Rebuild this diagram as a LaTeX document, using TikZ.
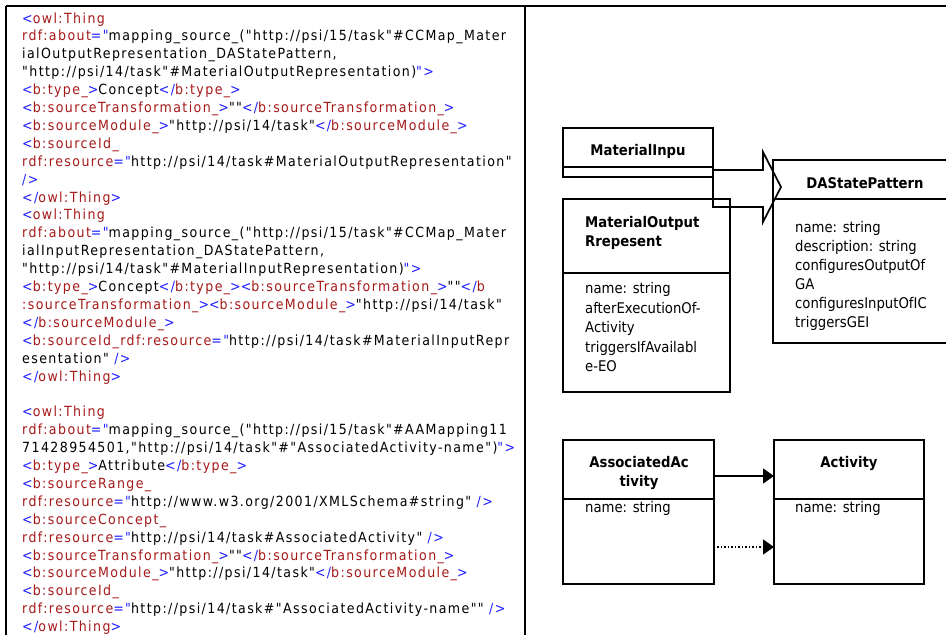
\documentclass[tikz,border=0pt]{standalone}
\usepackage{fontspec}
\setmainfont{DejaVu Sans}[FakeStretch=0.9]
\newfontfamily\codefont{DejaVu Sans}[FakeStretch=0.9,LetterSpace=10]
\usetikzlibrary{arrows.meta}
\definecolor{xblue}{RGB}{30,30,255}
\definecolor{xred}{RGB}{165,25,25}
\newcommand\bl[1]{\textcolor{xblue}{#1}}
\newcommand\rd[1]{\textcolor{xred}{#1}}
\newcommand\otag[1]{\bl{<}\rd{#1}\bl{>}}
\newcommand\ctag[1]{\bl{</}\rd{#1}\bl{>}}
\tikzset{
  codeline/.style={anchor=base west, inner sep=0pt, font=\codefont\fontsize{14}{16}\selectfont},
  frame/.style={line width=2pt},
  box/.style={draw, line width=1.7pt, inner sep=0pt, outer sep=0pt, anchor=north west},
  sepline/.style={line width=1.7pt},
  ttl/.style={anchor=base, inner sep=0pt, font=\bfseries\fontsize{14.7}{19}\selectfont},
  ttll/.style={anchor=base west, inner sep=0pt, font=\bfseries\fontsize{14.7}{19}\selectfont},
  attr/.style={anchor=base west, inner sep=0pt, font=\fontsize{14.7}{19.5}\selectfont},
  conn/.style={line width=1.5pt, -{Triangle[length=11pt,width=15pt]}},
  dconn/.style={line width=1.5pt, dotted, -{Triangle[length=11pt,width=15pt]}}
}
\begin{document}
\begin{tikzpicture}[x=1pt,y=-1pt]
\useasboundingbox (0,0) rectangle (946,635);
\clip (0,0) rectangle (946,635);
% table frame
\draw[frame] (6,6) -- (946,6);
\draw[frame] (6,6) -- (6,635);
\draw[frame] (525,6) -- (525,635);
% code text
\node[codeline] (l1) at (22,23) {\bl{<}\rd{owl:Thing}};
\node[codeline] (l2) at (22,40.9) {\rd{rdf:about}\bl{="}mapping\_source\_("http://psi/15/task"\#CCMap\_Mater};
\node[codeline] (l3) at (22,58.8) {ialOutputRepresentation\_DAStatePattern,};
\node[codeline] (l4) at (22,76.7) {"http://psi/14/task"\#MaterialOutputRepresentation)\bl{">}};
\node[codeline] (l5) at (22,94.6) {\otag{b:type\_}Concept\ctag{b:type\_}};
\node[codeline] (l6) at (22,112.5) {\otag{b:sourceTransformation\_}""\ctag{b:sourceTransformation\_}};
\node[codeline] (l7) at (22,130.4) {\otag{b:sourceModule\_}"http://psi/14/task"\ctag{b:sourceModule\_}};
\node[codeline] (l8) at (22,148.3) {\bl{<}\rd{b:sourceId\_}};
\node[codeline] (l9) at (22,166.2) {\rd{rdf:resource}\bl{="}http://psi/14/task\#MaterialOutputRepresentation"};
\node[codeline] (l10) at (22,184.1) {\bl{/>}};
\node[codeline] (l11) at (22,202) {\ctag{owl:Thing}};
\node[codeline] (l12) at (22,219.9) {\bl{<}\rd{owl:Thing}};
\node[codeline] (l13) at (22,237.8) {\rd{rdf:about}\bl{="}mapping\_source\_("http://psi/15/task"\#CCMap\_Mater};
\node[codeline] (l14) at (22,255.7) {ialInputRepresentation\_DAStatePattern,};
\node[codeline] (l15) at (22,273.6) {"http://psi/14/task"\#MaterialInputRepresentation)\bl{">}};
\node[codeline] (l16) at (22,291.5) {\otag{b:type\_}Concept\ctag{b:type\_}\otag{b:sourceTransformation\_}""\bl{</}\rd{b}};
\node[codeline] (l17) at (22,309.4) {\rd{:sourceTransformation\_}\bl{>}\otag{b:sourceModule\_}"http://psi/14/task"};
\node[codeline] (l18) at (22,327.3) {\ctag{b:sourceModule\_}};
\node[codeline] (l19) at (22,345.2) {\bl{<}\rd{b:sourceId\_rdf:resource}\bl{="}http://psi/14/task\#MaterialInputRepr};
\node[codeline] (l20) at (22,363.1) {esentation" \bl{/>}};
\node[codeline] (l21) at (22,381) {\ctag{owl:Thing}};
\node[codeline] (l23) at (22,416.8) {\bl{<}\rd{owl:Thing}};
\node[codeline] (l24) at (22,434.7) {\rd{rdf:about}\bl{="}mapping\_source\_("http://psi/15/task"\#AAMapping11};
\node[codeline] (l25) at (22,452.6) {71428954501,"http://psi/14/task"\#"AssociatedActivity-name")\bl{">}};
\node[codeline] (l26) at (22,470.5) {\otag{b:type\_}Attribute\ctag{b:type\_}};
\node[codeline] (l27) at (22,488.4) {\bl{<}\rd{b:sourceRange\_}};
\node[codeline] (l28) at (22,506.3) {\rd{rdf:resource}\bl{="}http://www.w3.org/2001/XMLSchema\#string" \bl{/>}};
\node[codeline] (l29) at (22,524.2) {\bl{<}\rd{b:sourceConcept\_}};
\node[codeline] (l30) at (22,542.1) {\rd{rdf:resource}\bl{="}http://psi/14/task\#AssociatedActivity" \bl{/>}};
\node[codeline] (l31) at (22,560) {\otag{b:sourceTransformation\_}""\ctag{b:sourceTransformation\_}};
\node[codeline] (l32) at (22,577.9) {\otag{b:sourceModule\_}"http://psi/14/task"\ctag{b:sourceModule\_}};
\node[codeline] (l33) at (22,595.8) {\bl{<}\rd{b:sourceId\_}};
\node[codeline] (l34) at (22,613.7) {\rd{rdf:resource}\bl{="}http://psi/14/task\#"AssociatedActivity-name"" \bl{/>}};
\node[codeline] (l35) at (22,631.6) {\ctag{owl:Thing}};
% ---- right diagram ----
% MaterialInpu
\node[box, minimum width=150pt, minimum height=49pt] (mi) at (563,128) {};
\draw[sepline] (mi.west |- 0,167) -- (mi.east |- 0,167);
\node[ttl] (mit) at (638,155) {MaterialInpu};
% MaterialOutputRrepesent
\node[box, minimum width=167pt, minimum height=193pt] (mo) at (563,199) {};
\draw[sepline] (mo.west |- 0,273) -- (mo.east |- 0,273);
\node[ttll] (mot1) at (585,227.5) {MaterialOutput};
\node[ttll] (mot2) at (585,246.5) {Rrepesent};
\foreach \t [count=\i] in {name: string, afterExecutionOf-, Activity, triggersIfAvailabl, e-EO}
  \node[attr] (moa\i) at (585,{293.5+19.5*(\i-1)}) {\t};
% DAStatePattern (right side cut by page edge)
\draw[sepline] (960,160) -- (773,160) coordinate (dane) -- (773,343) -- (960,343);
\draw[sepline] (773,199) -- (960,199);
\node[ttl] (dat) at (865,188) {DAStatePattern};
\foreach \t [count=\i] in {name: string, description: string, configuresOutputOf, GA, configuresInputOfIC, triggersGEI}
  \node[attr] (daa\i) at (795,{232.5+19*(\i-1)}) {\t};
% block arrow
\draw[sepline, line join=miter] (mi.east |- 0,170) -- (763,170) -- (763,152) -- (781,187) -- (763,222) -- (763,207) -- (mi.east |- 0,207) -- cycle;
% AssociatedActivity
\node[box, minimum width=151pt, minimum height=144pt] (aa) at (563,440) {};
\draw[sepline] (aa.west |- 0,499) -- (aa.east |- 0,499);
\node[ttl] (aat1) at (639,467) {AssociatedAc};
\node[ttl] (aat2) at (639,486) {tivity};
\node[attr] (aaa) at (585,512.5) {name: string};
% Activity
\node[box, minimum width=150pt, minimum height=144pt] (ac) at (774,440) {};
\draw[sepline] (ac.west |- 0,499) -- (ac.east |- 0,499);
\node[ttl] (act) at (849,467) {Activity};
\node[attr] (aca) at (795,512.5) {name: string};
% connectors
\draw[conn] (aa.east |- 0,476) -- (ac.west |- 0,476);
\draw[dconn] ([xshift=3pt]aa.east |- 0,547) -- (ac.west |- 0,547);
\end{tikzpicture}
\end{document}
